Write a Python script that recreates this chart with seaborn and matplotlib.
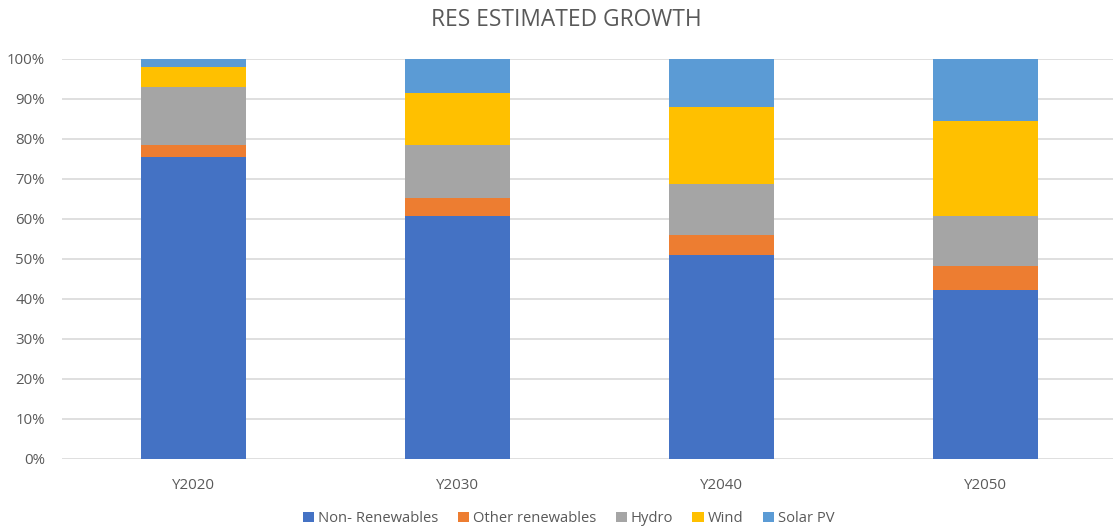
import matplotlib
matplotlib.use("Agg")
import matplotlib.pyplot as plt
import seaborn as sns
import numpy as np
import pandas as pd
from matplotlib.patches import Patch

categories = ["Y2020", "Y2030", "Y2040", "Y2050"]
series_names = ["Non- Renewables", "Other renewables", "Hydro", "Wind", "Solar PV"]
non_renewables = [75.5, 60.75, 50.9, 42.3]
other_renewables = [2.9, 4.45, 5.1, 5.95]
hydro = [14.5, 13.4, 12.8, 12.45]
wind = [5.2, 12.8, 19.1, 23.9]
solar_pv = [1.9, 8.6, 12.1, 15.4]
colors = ["#4472C4", "#ED7D31", "#A5A5A5", "#FFC000", "#5B9BD5"]

sns.set_theme(style="white")
plt.rcParams['font.family'] = ['Open Sans', 'DejaVu Sans']

series = [non_renewables, other_renewables, hydro, wind, solar_pv]
cum = np.cumsum(np.array(series), axis=0)
# normalise to 100%
cum = cum / cum[-1] * 100

fig = plt.figure(figsize=(11.13, 5.27), dpi=100)
ax = fig.add_axes([61.7 / 1113, 68 / 527, 1 - 61.7 / 1113, 400 / 527])

for i in range(len(series) - 1, -1, -1):
    df = pd.DataFrame({"cat": categories, "val": cum[i]})
    sns.barplot(data=df, x="cat", y="val", color=colors[i], width=0.398,
                saturation=1, ax=ax, zorder=3, linewidth=0)

ax.set_xlim(-0.5, 3.483)
ax.set_ylim(0, 100)
ax.set_yticks(np.arange(0, 101, 10))
ax.set_yticklabels([f"{v}%" for v in range(0, 101, 10)])
ax.yaxis.grid(True, color="#D9D9D9", linewidth=1.2, zorder=0)
ax.set_axisbelow(True)
for s in ax.spines.values():
    s.set_visible(False)
ax.tick_params(axis="both", length=0, labelsize=10.8, labelcolor="#595959")
ax.tick_params(axis="y", pad=12)
ax.tick_params(axis="x", pad=14)
ax.set_xlabel("")
ax.set_ylabel("")

fig.text(0.509, 0.962, "RES ESTIMATED GROWTH", ha="center", va="center",
         fontsize=16.4, color="#595959")

handles = [Patch(facecolor=c, edgecolor="none") for c in colors]
fig.legend(handles, series_names, loc="center", bbox_to_anchor=(0.511, 0.016),
           ncol=5, frameon=False, fontsize=10.6, labelcolor="#595959",
           handlelength=0.75, handleheight=0.75, handletextpad=0.3,
           columnspacing=1.3)

fig.savefig("out.png", dpi=100)
